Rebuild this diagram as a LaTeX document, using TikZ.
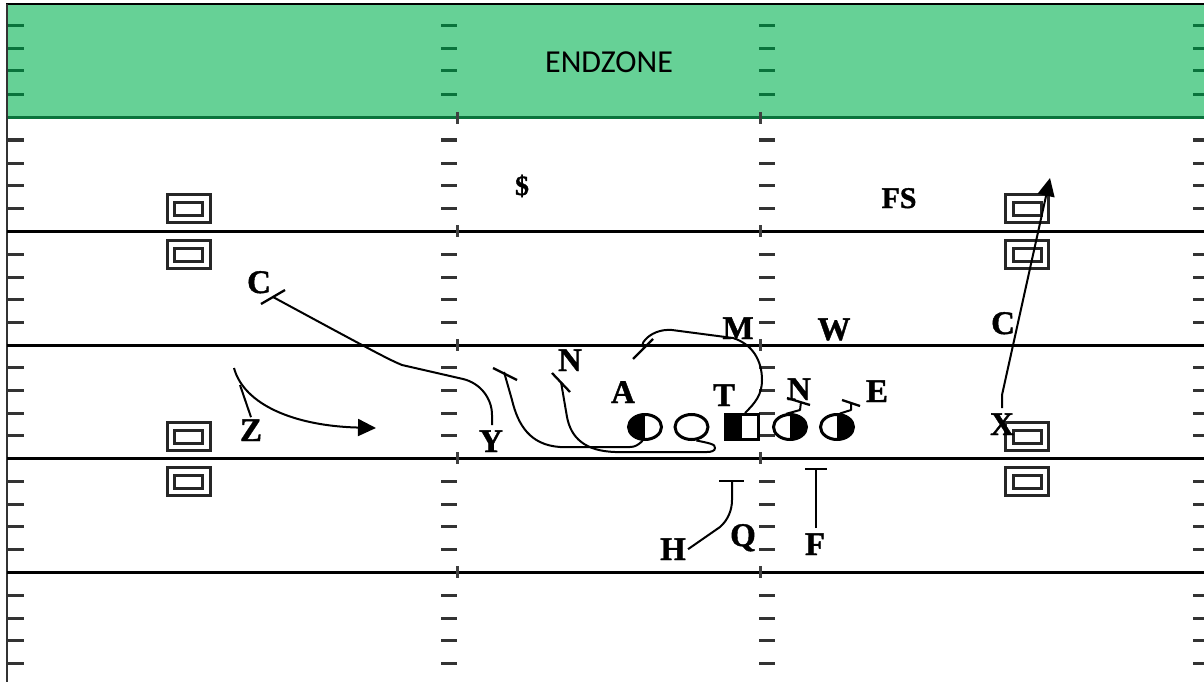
\documentclass[tikz,border=0pt]{standalone}
\usepackage{fontspec}
\setmainfont{Liberation Serif}
\newfontfamily\zonefont{Carlito}
\newfontfamily\labfont[FakeBold=1.2]{Liberation Serif Bold}
\usetikzlibrary{shapes.geometric,arrows.meta}
\definecolor{zonegreen}{RGB}{102,209,150}
\definecolor{zonedark}{RGB}{10,115,60}
\tikzset{
  x=1pt,y=-1pt,
  hashmark/.style={line width=3pt,black!80},
  zonehash/.style={line width=3pt,zonedark},
  yardline/.style={line width=3pt,black},
  yardtick/.style={line width=3pt,black!75},
  route/.style={line width=2pt,black,line join=round},
  endbar/.style={line width=2.3pt,black},
  tip/.style={-{Triangle[length=18pt,width=17pt]}},
  lab/.style={font=\labfont\fontsize{33}{33}\selectfont,inner sep=0pt,anchor=base},
  slab/.style={font=\labfont\fontsize{28}{28}\selectfont,inner sep=0pt,anchor=base},
  outerbox/.style={draw,line width=3pt,black!85,minimum width=43pt,minimum height=28pt,inner sep=0pt},
  innerbox/.style={draw,line width=3pt,black!85,minimum width=28pt,minimum height=13pt,inner sep=0pt},
  player/.style={draw,ellipse,line width=3pt,minimum width=33pt,minimum height=25pt,inner sep=0pt},
  leftblack/.style={player,path picture={\fill[black] (path picture bounding box.north west) rectangle (path picture bounding box.south);}},
  rightblack/.style={player,path picture={\fill[black] (path picture bounding box.north east) rectangle (path picture bounding box.south);}},
}
\begin{document}
\begin{tikzpicture}
\useasboundingbox (0,0) rectangle (1204,682);
% end zone
\fill[zonegreen] (7,4) rectangle (1204,118);
\draw[line width=2.5pt,zonedark] (7,117.5) -- (1204,117.5);
\draw[line width=2.5pt,black] (6,4) -- (1204,4);
\draw[line width=1.2pt,black!80] (7,4) -- (7,682);
% yard lines
\foreach \yy in {231,345,458,572} \draw[yardline] (7,\yy) -- (1204,\yy);
% hash marks
\foreach \xx/\hlen in {8/16,441/16,759/16,1193/11} {
  \foreach \yy in {26,49,71,95} \draw[zonehash] (\xx,\yy) -- ++(\hlen,0);
  \foreach \yy in {140,163,185,208,254,277,299,322,367,390,413,435,481,504,526,549,595,618,640,663}
    \draw[hashmark] (\xx,\yy) -- ++(\hlen,0);
}
\foreach \xx in {457,760} {
  \foreach \yy in {118,231,345,458,572} \draw[yardtick] (\xx,\yy-6) -- (\xx,\yy+6);
}
% numbers boxes
\foreach \xx/\nm in {188.5/l,1027/r} {
  \foreach \yy/\k in {208.5/a,254.5/b,436.5/c,481.5/d} {
    \node[outerbox] (o\nm\k) at (\xx,\yy) {};
    \node[innerbox] (i\nm\k) at (\xx,\yy) {};
  }
}
% labels
\node[font=\zonefont\fontsize{32}{32}\selectfont,inner sep=0pt] (ez) at (609,62) {ENDZONE};
\node[lab] (lC) at (259,293) {C};
\node[lab] (lZ) at (251,441) {Z};
\node[lab] (lY) at (491,452) {Y};
\node[slab] (lD) at (522,195) {\$};
\node[lab,font=\labfont\fontsize{30}{30}\selectfont] (lFS) at (899,208) {FS};
\node[lab] (lN) at (570,371) {N};
\node[lab] (lA) at (623,403) {A};
\node[lab] (lT) at (724,406) {T};
\node[lab] (lM) at (738,339) {M};
\node[lab] (lW) at (834,340) {W};
\node[lab] (lNb) at (799,400) {N};
\node[lab] (lE) at (877,402) {E};
\node[lab] (lCb) at (1003,334) {C};
\node[lab] (lX) at (1002,435) {X};
\node[lab] (lH) at (673,560) {H};
\node[lab] (lQ) at (743,546) {Q};
\node[lab] (lF) at (815,555) {F};
% players
\node[leftblack] (pA) at (645,427) {};
\node[player] (pO) at (691.5,427) {};
\node[rightblack] (pN) at (790,427) {};
\node[rightblack] (pE) at (837,427) {};
\node[draw,line width=3pt,minimum width=33pt,minimum height=25pt,inner sep=0pt,
  path picture={\fill[black] (path picture bounding box.north west) rectangle (path picture bounding box.south);}] (pT) at (742,427) {};
% route ends
\coordinate (eC) at (273,297);
\coordinate (eY) at (492,425);
\coordinate (eZ) at (234,368);
\coordinate (aZ) at (376,428);
\coordinate (eX) at (1002,408);
\coordinate (aX) at (1050,178);
% routes
\draw[route] (eY) -- (492,415) .. controls (492,398) and (480,383) .. (463,379)
  -- (402,365) .. controls (390,360) and (380,355) .. (eC);
\draw[endbar] (261,304) -- (285,290);
\draw[route,tip] (eZ) .. controls (244,405) and (295,426) .. (aZ);
\draw[route] (lZ.north) ++(0,-2) -- (240,385);
\draw[route,tip] (eX) -- (1002,395) -- (aX);
\draw[route] (pA.-100) .. controls (638,445) and (635,447) .. (630,447) -- (560,447)
  .. controls (530,445) and (518,425) .. (512,400) -- (504,372);
\draw[endbar] (493,368) -- (517,380);
\draw[route] (pO.-70) .. controls (708,443) and (716,444) .. (715,448) .. controls (715,451) and (711,452) .. (707,452)
  -- (615,452) .. controls (585,451) and (571,438) .. (567,417) -- (561,382);
\draw[endbar] (552,373) -- (570,392);
\draw[route] (745,413) .. controls (755,403) and (762,395) .. (762,380) .. controls (762,360) and (752,344) .. (733,338)
  -- (672,330) .. controls (660,329) and (650,334) .. (645,340) .. controls (642,343) and (642,346) .. (644,348);
\draw[endbar] (633,359) -- (653,339);
\draw[route] (pN.65) ++(-10,0) -- (800,410) -- (801,402);
\draw[endbar] (787,398) -- (810,405);
\draw[route] (pE.70) ++(-2,0) -- (851,410) -- (851,403);
\draw[endbar] (842,400) -- (860,406);
\draw[route] (lH.east) ++(2,0) -- (720,527) .. controls (728,520) and (732,510) .. (732,500) -- (732,481);
\draw[endbar] (719,481) -- (744,481);
\draw[route] (816,528) -- (816,469);
\draw[endbar] (805,469) -- (827,469);
\end{tikzpicture}
\end{document}
